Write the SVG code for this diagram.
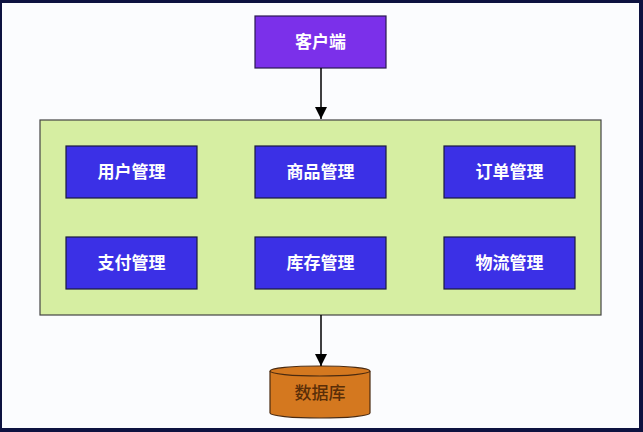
<svg xmlns="http://www.w3.org/2000/svg" width="643" height="432" viewBox="0 0 643 432">
<defs>
<marker id="arr" markerWidth="12" markerHeight="13" refX="12" refY="6" orient="auto" markerUnits="userSpaceOnUse" viewBox="0 0 12 12">
<path d="M0,0 L12,6 L0,12 z" fill="#000"/>
</marker>
<style>
.mod{fill:#3b30e6;stroke:#1a1a40;stroke-width:1.2}
.lbl{font-family:"Noto Sans CJK SC","Noto Sans",sans-serif;font-size:17px;font-weight:700;fill:#ffffff;text-anchor:middle;dominant-baseline:central}
.conn{stroke:#000;stroke-width:1.5;fill:none;marker-end:url(#arr)}
</style>
</defs>
<rect x="0" y="0" width="643" height="432" fill="#0d1240"/>
<rect x="2" y="3" width="637" height="425" fill="#fbfcfe"/>
<g id="client">
<rect x="255" y="16" width="131" height="52" fill="#7b30ea" stroke="#2a1a50" stroke-width="1.2"/>
<text class="lbl" x="320.5" y="40">客户端</text>
</g>
<g id="services">
<rect x="40" y="120" width="561" height="195" fill="#d6eea2" stroke="#444" stroke-width="1.2"/>
</g>
<g id="user"><rect class="mod" x="66" y="146" width="131" height="52"/><text class="lbl" x="131.5" y="170">用户管理</text></g>
<g id="product"><rect class="mod" x="255" y="146" width="131" height="52"/><text class="lbl" x="320.5" y="170">商品管理</text></g>
<g id="order"><rect class="mod" x="444" y="146" width="131" height="52"/><text class="lbl" x="509.5" y="170">订单管理</text></g>
<g id="payment"><rect class="mod" x="66" y="237" width="131" height="52"/><text class="lbl" x="131.5" y="261">支付管理</text></g>
<g id="inventory"><rect class="mod" x="255" y="237" width="131" height="52"/><text class="lbl" x="320.5" y="261">库存管理</text></g>
<g id="logistics"><rect class="mod" x="444" y="237" width="131" height="52"/><text class="lbl" x="509.5" y="261">物流管理</text></g>
<g id="database">
<path d="M270,371 L270,413 A50,5 0 0 0 370,413 L370,371" fill="#d4781f" stroke="#4a2a10" stroke-width="1.2"/>
<ellipse cx="320" cy="371" rx="50" ry="5" fill="#d4781f" stroke="#4a2a10" stroke-width="1.2"/>
<text class="lbl" x="320" y="391" style="fill:#5a2e08;font-weight:500">数据库</text>
</g>
<g id="connectors">
<line class="conn" x1="321" y1="68" x2="321" y2="119"/>
<line class="conn" x1="321" y1="315" x2="321" y2="366"/>
</g>
</svg>
